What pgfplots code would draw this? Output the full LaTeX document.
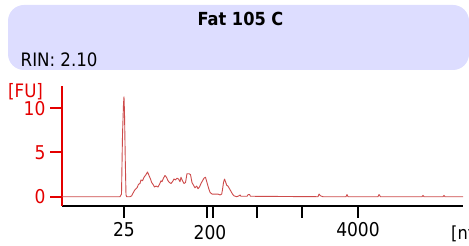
\documentclass[border=0pt]{standalone}
\usepackage{pgfplots}
\pgfplotsset{compat=1.18}
\usepackage{fontspec}
\setmainfont{DejaVu Sans Condensed}
\definecolor{boxbg}{RGB}{221,221,255}
\definecolor{axred}{RGB}{228,0,0}
\definecolor{linered}{RGB}{205,75,75}
\begin{document}
\begin{tikzpicture}
\path[use as bounding box] (0,0) rectangle (469pt,246pt);
\fill[boxbg, rounded corners=16pt] (8pt,176pt) rectangle (469pt,241pt);
\node[anchor=base, font=\bfseries\fontsize{18}{20}\selectfont, inner sep=0pt] at (240.5pt,220.3pt) {Fat 105 C};
\node[anchor=base west, font=\fontsize{18.5}{20}\selectfont, inner sep=0pt] at (20.5pt,179.3pt) {RIN: 2.10};
\node[anchor=base west, font=\fontsize{18.5}{20}\selectfont, inner sep=0pt, text=axred] at (8pt,148pt) {[FU]};
\node[anchor=base west, font=\fontsize{18}{20}\selectfont, inner sep=0pt] at (451pt,6pt) {[nt]};
\begin{axis}[
  at={(62pt,40pt)}, anchor=south west,
  width=401pt, height=120pt, scale only axis,
  xmin=62, xmax=463, ymin=-1.05, ymax=12.52,
  axis lines*=left,
  x axis line style={black, line width=2.6pt},
  y axis line style={axred, line width=2pt},
  ytick={0,5,10},
  xtick={124,207,213,256.7,302,358},
  xticklabels={25,,,,,4000},
  tick align=outside,
  major tick length=12pt,
  y tick style={axred, line width=2pt},
  x tick style={black, line width=2pt},
  /pgf/number format/assume math mode=true,
  yticklabel style={text=axred, font=\fontsize{19}{20}\selectfont, xshift=-1pt},
  xticklabel style={font=\fontsize{19}{20}\selectfont, yshift=-1pt},
  clip=false,
]
\addplot[linered, line width=0.9pt, line join=round] coordinates {
(62,0) (120,0) (121.5,0.3) (122.5,7) (123.5,10.5) (124,11.3) (124.5,9.5) (125.3,4) (126,0.2) (126.7,0)
(130,0) (131.7,0.1) (133,0.4) (135,0.8) (137,1.0) (138.5,1.4) (140,1.5) (141,1.9) (142.5,1.8) (144,2.2)
(146,2.5) (147.5,2.8) (149,2.4) (150.5,2.0) (151.7,1.6) (153,1.4) (154.5,1.1) (156,1.2) (158,1.1) (159.5,1.4)
(161,1.8) (162,1.7) (163.5,2.1) (165,2.4) (166.5,2.2) (168,1.8) (169.5,1.6) (171,1.5) (172.5,1.7) (174,2.0)
(175.5,1.9) (177,2.1) (178.5,2.0) (180,1.7) (181,2.2) (182.5,1.8) (184,1.5) (185.5,1.6) (187,2.6) (189,2.6)
(190.5,2.5) (192,1.6) (193.5,1.3) (195,1.0) (196.7,1.2) (198,0.9) (199.5,1.1) (201,1.5) (202.5,1.8) (204,2.1)
(205.5,2.2) (207,1.6) (208.5,1.0) (210,0.5) (212,0.3) (215,0.3) (218,0.3) (220,0.2) (221.7,0.3) (222.5,0.8)
(223.5,1.6) (224.5,2.0) (225.5,1.7) (226.7,1.3) (228,1.2) (229.5,0.9) (231,0.6) (232.5,0.3) (234,0.1) (236.7,0)
(239,0.1) (240,0.2) (241,0.05) (247,0.05) (248.3,0.25) (249.5,0.25) (250.5,0.05) (318,0) (319,0.3) (320.5,0.1)
(323,0) (346,0) (347,0.25) (348,0) (378,0) (379,0.25) (380.5,0) (422,0) (423,0.15) (424,0) (443,0) (444,0.15) (445,0) (463,0)
};
\node[anchor=north, font=\fontsize{19}{20}\selectfont, inner sep=0pt] at (axis cs:210,-1.05) [yshift=-19pt] {200};
\end{axis}
\end{tikzpicture}
\end{document}
